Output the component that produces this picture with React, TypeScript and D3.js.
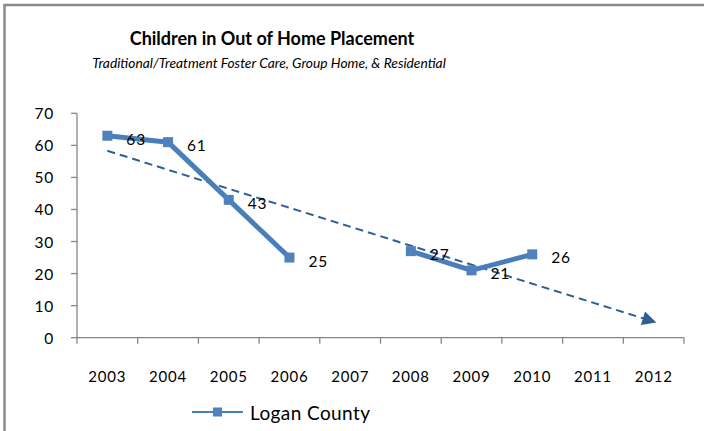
import * as d3 from "d3"
import React from "react"

const years = ["2003", "2004", "2005", "2006", "2007", "2008", "2009", "2010", "2011", "2012"]
const placements: Array<number | null> = [63, 61, 43, 25, null, 27, 21, 26, null, null]
const yTicks = [0, 10, 20, 30, 40, 50, 60, 70]
const seriesName = "Logan County"

const FONT = "Lato, 'Open Sans', sans-serif"

function App() {
  const width = 704,
    height = 431

  const x = d3.scaleBand().domain(years).range([77, 684])
  const y = d3.scaleLinear().domain([0, 70]).range([337.7, 113.3])
  const cx = (yr: string) => (x(yr) as number) + x.bandwidth() / 2

  const pts = years
    .map((yr, i) => ({ yr, i, v: placements[i] }))
    .filter((d) => d.v != null) as Array<{ yr: string; i: number; v: number }>

  const line = d3
    .line<{ yr: string; v: number | null }>()
    .defined((d) => d.v != null)
    .x((d) => cx(d.yr))
    .y((d) => y(d.v as number))

  // linear trend over the plotted points, same as excel's trendline
  const mx = d3.mean(pts, (d) => d.i) as number
  const my = d3.mean(pts, (d) => d.v) as number
  const slope =
    d3.sum(pts, (d) => (d.i - mx) * (d.v - my)) / d3.sum(pts, (d) => (d.i - mx) ** 2)
  const icpt = my - slope * mx
  const last = years.length - 1

  return (
    <svg width={width} height={height} style={{ position: "absolute", left: 0, top: 0 }}>
      <defs>
        <marker
          id="arrow"
          viewBox="0 0 10 10"
          refX="8"
          refY="5"
          markerUnits="userSpaceOnUse"
          markerWidth="17"
          markerHeight="14"
          orient="auto"
        >
          <path d="M0,0 L10,5 L0,10 z" fill="#2f5f95" />
        </marker>
      </defs>
      <rect x={0} y={0} width={width} height={height} fill="#fff" />
      <rect x={4.5} y={5} width={width + 20} height={height + 20} fill="none" stroke="#8a8a8a" strokeWidth={2.5} />

      <text x={272} y={45} textAnchor="middle" fontFamily={FONT} fontWeight="bold" fontSize={18} fill="#000">
        Children in Out of Home Placement
      </text>
      <text x={269} y={68} textAnchor="middle" fontFamily={FONT} fontStyle="italic" fontSize={13.8} fill="#000">
        Traditional/Treatment Foster Care, Group Home, &amp; Residential
      </text>

      {/* axes */}
      <line x1={77} x2={77} y1={y(70)} y2={y(0)} stroke="#868686" strokeWidth={1.3} />
      <line x1={77} x2={684} y1={y(0)} y2={y(0)} stroke="#868686" strokeWidth={1.3} />
      {yTicks.map((t) => (
        <g key={t}>
          <line x1={71} x2={77} y1={y(t)} y2={y(t)} stroke="#868686" strokeWidth={1.3} />
          <text
            x={54}
            y={y(t)}
            textAnchor="end"
            dominantBaseline="central"
            fontFamily={FONT}
            fontSize={15.5}
            letterSpacing={0.8}
            fill="#000"
          >
            {t}
          </text>
        </g>
      ))}
      {d3.range(years.length + 1).map((i) => {
        const tx = 77 + i * x.bandwidth()
        return <line key={i} x1={tx} x2={tx} y1={y(0)} y2={y(0) + 6} stroke="#868686" strokeWidth={1.3} />
      })}
      {years.map((yr) => (
        <text
          key={yr}
          x={cx(yr)}
          y={376}
          textAnchor="middle"
          dominantBaseline="central"
          fontFamily={FONT}
          fontSize={15}
          letterSpacing={0.8}
          fill="#000"
        >
          {yr}
        </text>
      ))}

      {/* trend */}
      <line
        x1={cx(years[0])}
        y1={y(icpt)}
        x2={cx(years[last])}
        y2={y(icpt + slope * last)}
        stroke="#2f5f95"
        strokeWidth={2}
        strokeDasharray="8,5"
        markerEnd="url(#arrow)"
      />

      {/* series */}
      <path
        d={line(years.map((yr, i) => ({ yr, v: placements[i] }))) || ""}
        fill="none"
        stroke="#4a7ebb"
        strokeWidth={5}
        strokeLinejoin="round"
      />
      {pts.map((d) => (
        <rect key={d.yr} x={cx(d.yr) - 5} y={y(d.v) - 5} width={10} height={10} fill="#4f81bd" />
      ))}
      {pts.map((d) => (
        <text
          key={"l" + d.yr}
          x={cx(d.yr) + 19}
          y={y(d.v) + 3}
          dominantBaseline="central"
          fontFamily={FONT}
          fontSize={15.5}
          letterSpacing={0.8}
          fill="#000"
        >
          {d.v}
        </text>
      ))}

      {/* legend */}
      <line x1={192} x2={243} y1={412} y2={412} stroke="#4a7ebb" strokeWidth={2} />
      <rect x={213} y={407.5} width={9} height={9} fill="#4f81bd" />
      <text x={250} y={412} dominantBaseline="central" fontFamily={FONT} fontSize={19} letterSpacing={0.4} fill="#000">
        {seriesName}
      </text>
    </svg>
  )
}

export default App
